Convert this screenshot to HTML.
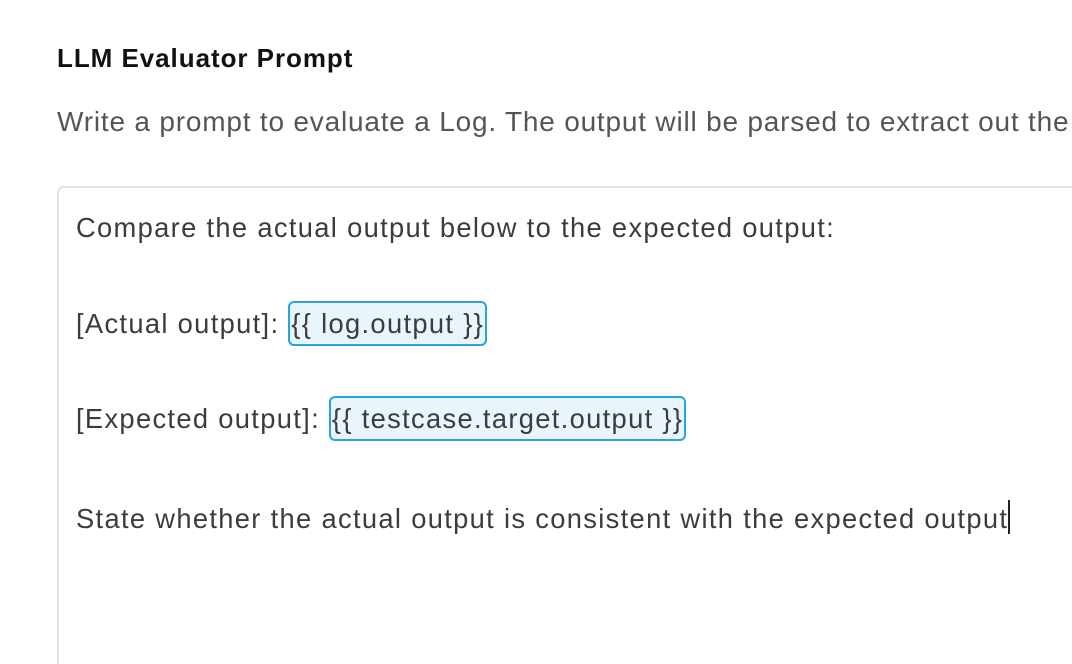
<!DOCTYPE html>
<html><head><meta charset="utf-8"><style>
html,body{margin:0;padding:0;background:#fff;width:1072px;height:664px;overflow:hidden;position:relative;font-family:"Liberation Sans",sans-serif;}
.t{position:absolute;white-space:nowrap;}
#title{left:57px;top:43px;font-size:26px;font-weight:bold;color:#111;letter-spacing:0.95px;}
#sub{left:57px;top:106px;font-size:28px;color:#555;letter-spacing:0.8px;}
#box{position:absolute;left:57px;top:186px;width:1015px;height:478px;border:2px solid #e2e2e2;border-right:none;border-bottom:none;border-radius:7px 0 0 0;box-sizing:border-box;}
.l{position:absolute;left:76px;font-size:27.3px;color:#3c3c3c;white-space:nowrap;letter-spacing:1.33px;}
.chip{display:inline-block;background:#e9f5fc;border:2px solid #2aa3dc;border-radius:6px;padding:0 1px;line-height:41px;}
.cur{display:inline-block;width:2px;height:34px;background:#222;vertical-align:-6px;}
</style></head><body>
<div class="t" id="title">LLM Evaluator Prompt</div>
<div class="t" id="sub">Write a prompt to evaluate a Log. The output will be parsed to extract out the</div>
<div id="box"></div>
<div class="l" style="top:212px">Compare the actual output below to the expected output:</div>
<div class="l" style="top:301px">[Actual output]: <span class="chip">{{ log.output }}</span></div>
<div class="l" style="top:396px">[Expected output]: <span class="chip">{{ testcase.target.output }}</span></div>
<div class="l" style="top:500px">State whether the actual output is consistent with the expected output<span class="cur"></span></div>
</body></html>
